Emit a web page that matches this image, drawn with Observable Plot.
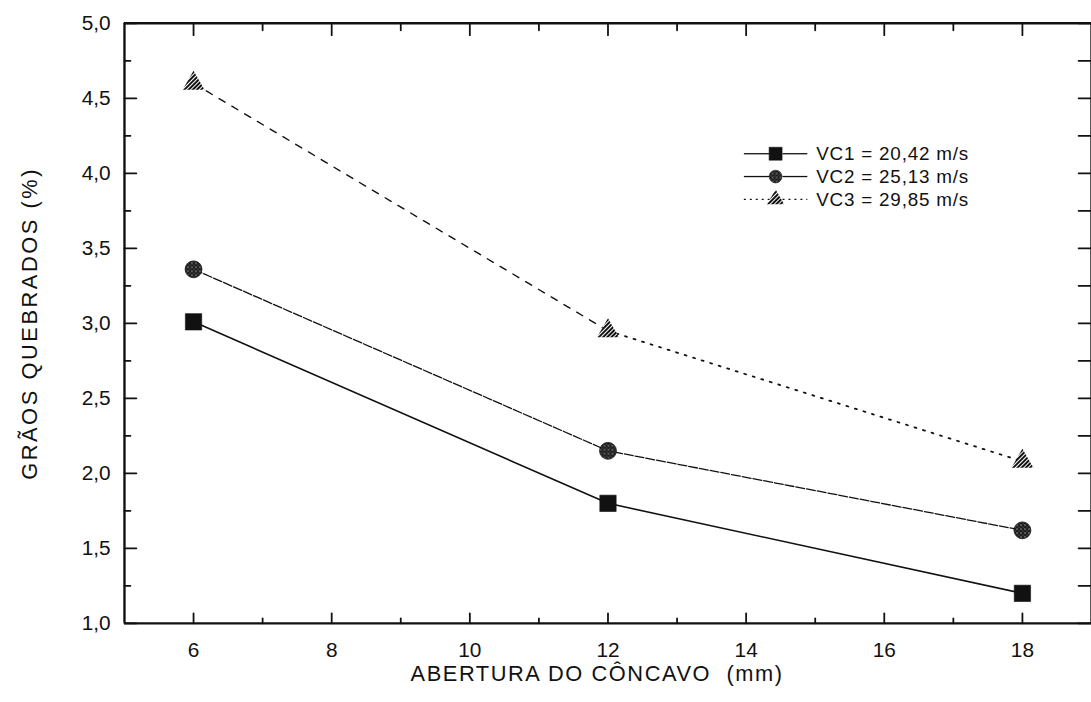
<!DOCTYPE html>
<html>
<head>
<meta charset="utf-8">
<script src="https://cdn.jsdelivr.net/npm/d3@7"></script>
<script src="https://cdn.jsdelivr.net/npm/@observablehq/plot@0.6"></script>
<style>
  body { margin: 0; background: #fff; }
  #chart { position: relative; width: 1091px; height: 702px; overflow: hidden; }
  #chart svg { font-family: "Liberation Sans", Arial, Helvetica, sans-serif; }
</style>
</head>
<body>
<div id="chart"></div>
<script>
// Concave opening (mm) and broken grain percentage for three cylinder speeds
const aberturas = [6, 12, 18];
const vc1 = [3.01, 1.80, 1.20];
const vc2 = [3.36, 2.15, 1.62];
const vc3 = [4.60, 2.95, 2.08];
const seriesKeys = ["VC1", "VC2", "VC3"];
const seriesLabels = ["VC1 = 20,42 m/s", "VC2 = 25,13 m/s", "VC3 = 29,85 m/s"];

// Axis ticks
const xTicks = [6, 8, 10, 12, 14, 16, 18];
const xMinor = [7, 9, 11, 13, 15, 17];
const yTicks = [1.0, 1.5, 2.0, 2.5, 3.0, 3.5, 4.0, 4.5, 5.0];
const yMinor = [1.25, 1.75, 2.25, 2.75, 3.25, 3.75, 4.25, 4.75];
const xDomain = [5, 19];
const yDomain = [1, 5];

const rows = aberturas.flatMap((a, i) => [
  {serie: "VC1", x: a, y: vc1[i]},
  {serie: "VC2", x: a, y: vc2[i]},
  {serie: "VC3", x: a, y: vc3[i]}
]);
const bySerie = (s) => rows.filter(d => d.serie === s);

const comma = d => d.toFixed(1).replace(".", ",");
const ink = "#111";

// inward tick shapes for the frame
const tickUp = {draw(c, l) { c.moveTo(0, 0); c.lineTo(0, -l); }};
const tickDown = {draw(c, l) { c.moveTo(0, 0); c.lineTo(0, l); }};
const tickRight = {draw(c, l) { c.moveTo(0, 0); c.lineTo(l, 0); }};
const tickLeft = {draw(c, l) { c.moveTo(0, 0); c.lineTo(-l, 0); }};
const frameTicks = (values, opts) => Plot.vector(values, {anchor: "start", stroke: ink, strokeWidth: 1.8, ...opts});

const plot = Plot.plot({
  width: 1100,
  height: 702,
  marginLeft: 125,
  marginRight: 0,
  marginTop: 23,
  marginBottom: 74,
  x: {domain: xDomain},
  y: {domain: yDomain},
  style: {fontSize: "21px", color: ink, background: "#fff", overflow: "visible"},
  marks: [
    // frame
    Plot.ruleY([yDomain[0], yDomain[1]], {stroke: ink, strokeWidth: 2.4}),
    Plot.ruleX([xDomain[0], xDomain[1]], {stroke: ink, strokeWidth: 2.4}),
    // bottom ticks
    frameTicks(xTicks, {x: d => d, y: () => yDomain[0], length: 10, shape: tickUp}),
    frameTicks(xMinor, {x: d => d, y: () => yDomain[0], length: 5, shape: tickUp}),
    // top ticks
    frameTicks(xTicks, {x: d => d, y: () => yDomain[1], length: 12, shape: tickDown}),
    frameTicks(xMinor, {x: d => d, y: () => yDomain[1], length: 7, shape: tickDown}),
    // left ticks
    frameTicks(yTicks, {x: () => xDomain[0], y: d => d, length: 12, shape: tickRight}),
    frameTicks(yMinor, {x: () => xDomain[0], y: d => d, length: 6, shape: tickRight}),
    // right ticks
    frameTicks(yTicks, {x: () => xDomain[1], y: d => d, length: 13, shape: tickLeft}),
    frameTicks(yMinor, {x: () => xDomain[1], y: d => d, length: 13, shape: tickLeft}),
    // tick labels
    Plot.axisX({ticks: xTicks, tickSize: 0, tickPadding: 19, label: null, fontSize: 21}),
    Plot.axisY({ticks: yTicks, tickSize: 0, tickPadding: 14, tickFormat: comma, label: null, fontSize: 21}),
    // series lines
    Plot.line(bySerie("VC1"), {x: "x", y: "y", stroke: ink, strokeWidth: 1.6}),
    Plot.line(bySerie("VC2"), {x: "x", y: "y", stroke: ink, strokeWidth: 1.3, strokeDasharray: "9,2"}),
    Plot.line(bySerie("VC3").filter(d => d.x <= 12), {x: "x", y: "y", stroke: ink, strokeWidth: 1.4, strokeDasharray: "7,8"}),
    Plot.line(bySerie("VC3").filter(d => d.x >= 12), {x: "x", y: "y", stroke: ink, strokeWidth: 1.8, strokeDasharray: "2,7"}),
    // markers
    Plot.dot(bySerie("VC1"), {x: "x", y: "y", symbol: "square", r: 9.3, fill: ink, stroke: ink, strokeWidth: 0.6}),
    Plot.dot(bySerie("VC2"), {x: "x", y: "y", symbol: "circle", r: 8.5, fill: "url(#stipple)", stroke: ink, strokeWidth: 0.8}),
    Plot.dot(bySerie("VC3"), {x: "x", y: "y", symbol: "triangle", r: 8.2, fill: "url(#hatch)", stroke: "none"})
  ]
});

document.getElementById("chart").appendChild(plot);

const svg = d3.select(plot);
const defs = svg.insert("defs", ":first-child");
const stipple = defs.append("pattern").attr("id", "stipple").attr("patternUnits", "userSpaceOnUse")
  .attr("width", 4).attr("height", 4);
stipple.append("rect").attr("width", 4).attr("height", 4).attr("fill", "#1a1a1a");
stipple.append("circle").attr("cx", 1).attr("cy", 1).attr("r", 0.75).attr("fill", "#bbb");
stipple.append("circle").attr("cx", 3).attr("cy", 3).attr("r", 0.6).attr("fill", "#888");
const hatch = defs.append("pattern").attr("id", "hatch").attr("patternUnits", "userSpaceOnUse")
  .attr("width", 3).attr("height", 3).attr("patternTransform", "rotate(45)");
hatch.append("rect").attr("width", 3).attr("height", 3).attr("fill", "#fff");
hatch.append("rect").attr("width", 2).attr("height", 3).attr("fill", "#111");

// axis titles
svg.append("text")
  .attr("x", 602).attr("y", 687)
  .attr("text-anchor", "middle")
  .attr("font-size", 22).attr("letter-spacing", "1.6px").attr("fill", ink)
  .text("ABERTURA DO CÔNCAVO  (mm)");
svg.append("text")
  .attr("transform", "translate(37,326) rotate(-90)")
  .attr("text-anchor", "middle")
  .attr("font-size", 22).attr("letter-spacing", "2.6px").attr("fill", ink)
  .text("GRÃOS QUEBRADOS (%)");

// legend
const legend = svg.append("g").attr("fill", ink).attr("text-anchor", "start");
const legendRowY = [155, 178, 201];
const legendDash = [null, null, "2,4"];
const legendSymbols = [d3.symbolSquare, d3.symbolCircle, d3.symbolTriangle];
const legendSizes = [170, 130, 130];
const legendFills = [ink, "url(#stipple)", "url(#hatch)"];
seriesKeys.forEach((k, i) => {
  const y = legendRowY[i];
  legend.append("line").attr("x1", 750).attr("x2", 776).attr("y1", y).attr("y2", y)
    .attr("stroke", ink).attr("stroke-width", 1.3).attr("stroke-dasharray", legendDash[i]);
  legend.append("line").attr("x1", 789).attr("x2", 814).attr("y1", y).attr("y2", y)
    .attr("stroke", ink).attr("stroke-width", 1.3).attr("stroke-dasharray", legendDash[i]);
  legend.append("path").attr("transform", `translate(782,${y})`)
    .attr("d", d3.symbol(legendSymbols[i], legendSizes[i])())
    .attr("fill", legendFills[i]).attr("stroke", i === 2 ? "none" : ink).attr("stroke-width", 0.6);
  legend.append("text").attr("x", 823).attr("y", y).attr("dy", "0.35em")
    .attr("font-size", 19).attr("letter-spacing", "0.8px")
    .text(seriesLabels[i]);
});
</script>
</body>
</html>
